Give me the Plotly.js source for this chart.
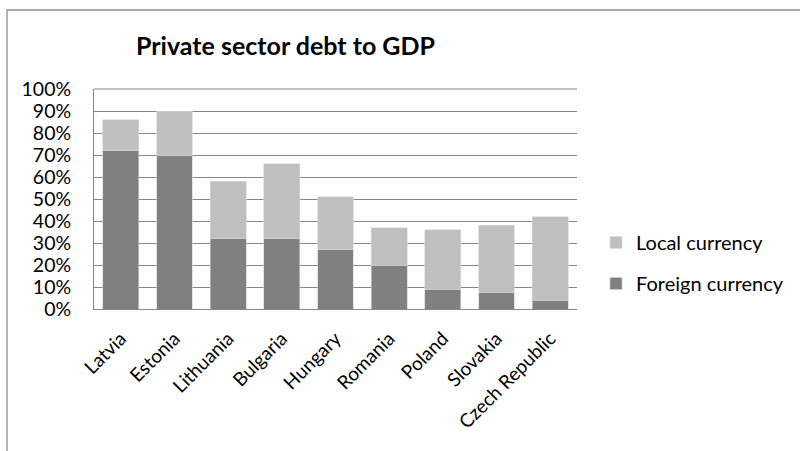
<!DOCTYPE html>
<html>
<head>
<meta charset="utf-8">
<script src="https://cdn.plot.ly/plotly-3.0.1.min.js"></script>
<style>html,body{margin:0;padding:0;background:#fff;}#chart{width:800px;height:451px;}</style>
</head>
<body>
<div id="chart"></div>
<script>
var countries = ["Latvia", "Estonia", "Lithuania", "Bulgaria", "Hungary", "Romania", "Poland", "Slovakia", "Czech Republic"];
var foreignCurrency = [0.72, 0.70, 0.32, 0.32, 0.27, 0.20, 0.09, 0.075, 0.04];
var localCurrency = [0.14, 0.20, 0.26, 0.34, 0.24, 0.17, 0.27, 0.305, 0.38];
var yTickVals = [0, 0.1, 0.2, 0.3, 0.4, 0.5, 0.6, 0.7, 0.8, 0.9, 1.0];
var yTickText = ["0%", "10%", "20%", "30%", "40%", "50%", "60%", "70%", "80%", "90%", "100%"];

var font = "Lato, 'Open Sans', sans-serif";

var traces = [
  {type: "bar", name: "Foreign currency", x: countries, y: foreignCurrency,
   marker: {color: "#808080", line: {color: "#d0d0d0", width: 0.6}}, legendgroup: "b", legendrank: 2, hoverinfo: "none"},
  {type: "bar", name: "Local currency", x: countries, y: localCurrency,
   marker: {color: "#bfbfbf", line: {color: "#d8d8d8", width: 0.6}}, legendgroup: "a", legendrank: 1, hoverinfo: "none"}
];

var L = 94, R = 223, T = 89, B = 142;
var plotW = 800 - L - R, plotH = 451 - T - B;

var layout = {
  width: 800, height: 451,
  paper_bgcolor: "#fff", plot_bgcolor: "#fff",
  barmode: "stack",
  bargap: 0.33,
  margin: {l: L, r: R, t: T, b: B, autoexpand: false},
  title: {text: "<b>Private sector debt to GDP</b>", xref: "paper", x: (136 - L) / plotW, xanchor: "left",
          y: 1 - 46 / 451, yanchor: "middle",
          font: {family: font, size: 25, color: "#000"}},
  font: {family: font, color: "#000"},
  xaxis: {type: "category", tickangle: -45, tickfont: {size: 19, color: "#000"},
          showline: true, linecolor: "#868686", linewidth: 1, ticks: "", showgrid: false,
          ticklabelstandoff: 10, automargin: false},
  yaxis: {range: [0, 1.0], tickvals: yTickVals, ticktext: yTickText, tickfont: {size: 19.5, color: "#000"},
          showgrid: true, gridcolor: "#868686", gridwidth: 1, showline: true, linecolor: "#868686",
          zeroline: false, ticks: "", ticklen: 0, automargin: false, ticklabelstandoff: 18},
  legend: {x: (596 - L) / plotW, xanchor: "left", y: (309 - 263) / plotH, yanchor: "middle",
           traceorder: "grouped",
           tracegroupgap: 12, font: {size: 20, color: "#000"}, bgcolor: "rgba(0,0,0,0)"},
  shapes: [
    {type: "rect", xref: "paper", yref: "paper",
     x0: (7 - L) / plotW, x1: (900 - L) / plotW,
     y0: (451 - B - 700) / plotH, y1: (451 - B - 10) / plotH,
     line: {color: "#8c8c8c", width: 1.3}, fillcolor: "rgba(0,0,0,0)", layer: "below"},
    {type: "line", xref: "paper", yref: "paper", x0: 0, x1: 1, y0: 1, y1: 1, line: {color: "#868686", width: 1}}
  ],
  showlegend: true
};

Plotly.newPlot("chart", traces, layout, {staticPlot: true});
</script>
</body>
</html>
